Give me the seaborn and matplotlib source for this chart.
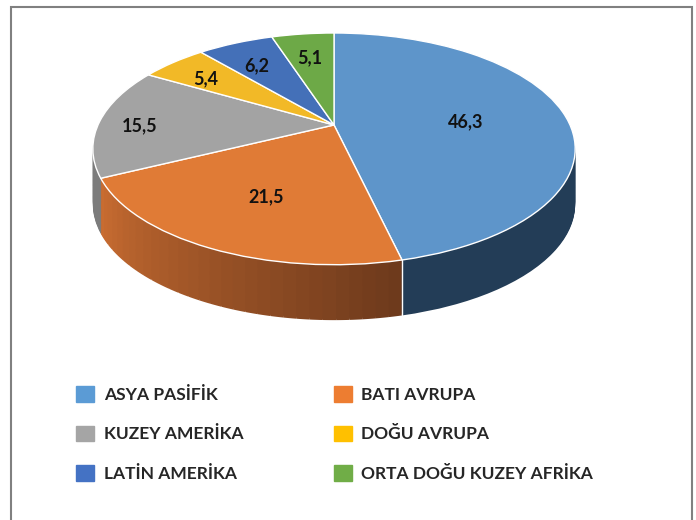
import matplotlib
matplotlib.use("Agg")
import matplotlib.pyplot as plt
import seaborn as sns
import numpy as np
from matplotlib.patches import Rectangle
from matplotlib.transforms import Transform, Affine2D
from matplotlib.colors import to_rgb

# Data
regions = ["ASYA PASİFİK", "BATI AVRUPA", "KUZEY AMERİKA",
           "DOĞU AVRUPA", "LATİN AMERİKA", "ORTA DOĞU KUZEY AFRİKA"]
shares = [46.3, 21.5, 15.5, 5.4, 6.2, 5.1]

legend_colors = ["#5B9BD5", "#ED7D31", "#A5A5A5", "#FFC000", "#4472C4", "#70AD47"]
top_colors = ["#5E95CA", "#E07B36", "#A3A3A3", "#F2B927", "#4470B8", "#6DA947"]
side_colors = ["#233D57", "#A0552A", "#7C7C7C", "#B38A00", "#2F5090", "#4E7A32"]
label_dist = [0.57, 0.6, 0.83, 0.78, 0.75, 0.75]


class Tilt(Transform):
    """Perspective view of the unit disk (far side shrinks)."""
    input_dims = 2
    output_dims = 2
    is_separable = False
    has_inverse = False

    def __init__(self, k, squash):
        super().__init__()
        self.k = k
        self.squash = squash

    def transform_non_affine(self, values):
        values = np.asarray(values, dtype=float)
        d = 1 + self.k * values[:, 1]
        return np.column_stack([values[:, 0] / d, self.squash * values[:, 1] / d])


sns.set_theme(style="white")
plt.rcParams["font.family"] = ["Lato", "DejaVu Sans"]

fig = plt.figure(figsize=(6.96, 5.2), dpi=100)

# gray frame around the chart area (bottom edge is cut off)
fig.patches.append(Rectangle((11 / 696, -0.05), (692 - 11) / 696, (520 - 7) / 520 + 0.05,
                             transform=fig.transFigure, fill=False,
                             edgecolor="#808080", lw=1.5))

ax = fig.add_axes([0.0391, 0.3058, 0.8816, 0.6808])
tilt = Tilt(0.206, 0.47)

# side wall: orange slice split up so its wall gets a light-to-dark shade
n_sub = 30
dark, light = np.array(to_rgb("#6E3A1C")), np.array(to_rgb("#C86C31"))
wall_vals, wall_cols = [], []
for i, v in enumerate(shares):
    if i == 1:
        for j in range(n_sub):
            t = j / (n_sub - 1)
            wall_vals.append(v / n_sub)
            wall_cols.append(tuple(dark + (light - dark) * t))
    else:
        wall_vals.append(v)
        wall_cols.append(side_colors[i])

depth = 0.235
n_layers = 60
for k in range(n_layers, 0, -1):
    shift = Affine2D().translate(0, -depth * k / n_layers)
    layer, _ = ax.pie(wall_vals, colors=wall_cols, startangle=90, counterclock=False,
                      wedgeprops=dict(linewidth=0))
    for w in layer:
        w.set_transform(tilt + shift + ax.transData)

# white seam on the wall between first and second slice
ang = np.deg2rad(90 - 360 * shares[0] / sum(shares))
top_pt = tilt.transform(np.array([[np.cos(ang), np.sin(ang)]]))[0]
ax.plot([top_pt[0], top_pt[0]], [top_pt[1], top_pt[1] - depth], color="white", lw=1)

# top face
wedges, texts, autotexts = ax.pie(
    shares, colors=top_colors, startangle=90, counterclock=False,
    autopct=lambda p: f"{p:.1f}".replace(".", ","), pctdistance=1.0,
    wedgeprops=dict(edgecolor="white", linewidth=1),
    textprops=dict(fontsize=13, fontweight="bold", color="#111111"))
for w in wedges:
    w.set_transform(tilt + ax.transData)
nudge = Affine2D().translate(0, -0.018)
for t, r in zip(autotexts, label_dist):
    x, y = t.get_position()
    t.set_position((x * r, y * r))
    t.set_transform(tilt + nudge + ax.transData)

ax.set_aspect("auto")
ax.set_xlim(-1.3, 1.3)
ax.set_ylim(-1.0, 0.5)
ax.axis("off")

# legend, row-wise order in two columns
order = [0, 2, 4, 1, 3, 5]
handles = [Rectangle((0, 0), 1, 1, color=legend_colors[i]) for i in order]
labels = [regions[i] for i in order]
fig.legend(handles, labels, ncol=2, loc="upper left",
           bbox_to_anchor=(76 / 696, 1 - 386 / 520), frameon=False,
           prop=dict(size=12.5, weight="bold"), handlelength=1.05,
           handleheight=1.0, handletextpad=0.55, labelspacing=1.32,
           columnspacing=5.2, borderpad=0, borderaxespad=0)

fig.savefig("out.png", dpi=100)
